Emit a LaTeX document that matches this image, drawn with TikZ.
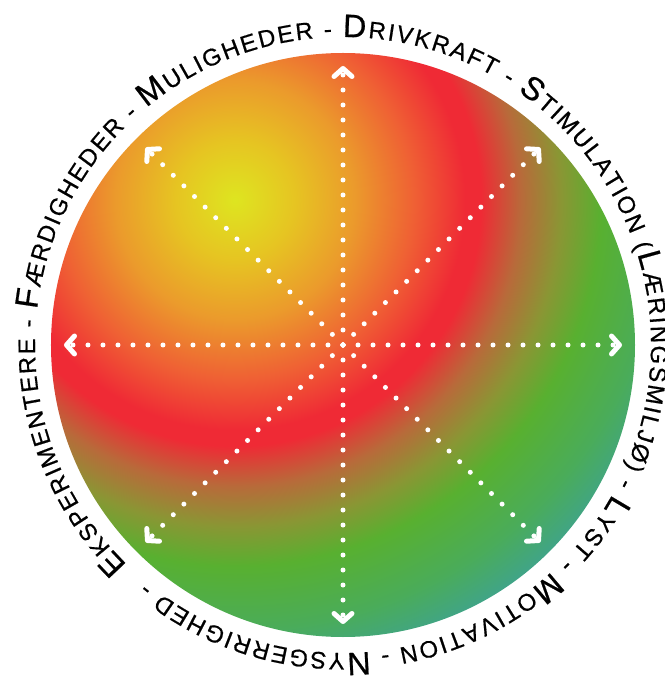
\documentclass[tikz,border=0pt]{standalone}
\usepackage{fontspec}
\setmainfont{Liberation Sans}[FakeBold=0.6]
\usetikzlibrary{arrows.meta,decorations.text}
\definecolor{wyellow}{RGB}{222,229,32}
\definecolor{wgold}{RGB}{230,196,34}
\definecolor{wamber}{RGB}{235,154,44}
\definecolor{wflame}{RGB}{239,95,52}
\definecolor{wred}{RGB}{239,42,53}
\definecolor{wbrown}{RGB}{184,106,58}
\definecolor{wolive}{RGB}{138,150,52}
\definecolor{wgreen}{RGB}{88,176,48}
\definecolor{wleaf}{RGB}{74,172,90}
\definecolor{wteal}{RGB}{58,159,165}
\pgfdeclareradialshading{wheelglow}{\pgfpoint{0bp}{0bp}}{%
  color(0bp)=(wyellow); color(3bp)=(wgold); color(6bp)=(wamber);
  color(9bp)=(wflame); color(11.5bp)=(wred); color(12.3bp)=(wred);
  color(14.3bp)=(wbrown); color(16.3bp)=(wolive); color(18.3bp)=(wgreen);
  color(21.5bp)=(wleaf); color(25bp)=(wteal); color(50bp)=(wteal)}
\newcommand{\capbig}{\fontsize{23pt}{23pt}\selectfont}
\newcommand{\capsmall}{\fontsize{17pt}{17pt}\selectfont}

\begin{document}
\begin{tikzpicture}[
    spoke/.style={white,line width=0.125cm,line cap=round,
      dash pattern=on 0pt off 0.375cm,
      -{Straight Barb[length=0.2cm,width=0.45cm,round]}}]
  \useasboundingbox (-8.575,-8.375) rectangle (8.05,8.625);
  \coordinate (c) at (0,0);
  \coordinate (glow) at (-2.7,3.625);
  \begin{scope}
    \clip (c) circle (7.3);
    \shade[shading=wheelglow] (glow) circle (12.5);
  \end{scope}
  \foreach \a in {0,45,...,315}
    \coordinate (tip\a) at (\a:6.975);
  \foreach \a in {0,45,...,315}
    \draw[spoke] (c) -- (tip\a);
  \path[decorate,decoration={text along path,text align={fit to path},
      text={|\capbig|E|\capsmall|KSPERIMENTERE - |\capbig|F|\capsmall|ÆRDIGHEDER - |\capbig|M|\capsmall|ULIGHEDER - |\capbig|D|\capsmall|RIVKRAFT - |\capbig|S|\capsmall|TIMULATION (|\capbig|L|\capsmall|ÆRINGSMILJØ) - |\capbig|L|\capsmall|YST - |\capbig|M|\capsmall|OTIVATION - |\capbig|N|\capsmall|YSGERRIGHED -}}]
    (c) ++(225.5:7.7) arc[start angle=225.5,end angle=-129.5,radius=7.7];
\end{tikzpicture}
\end{document}
